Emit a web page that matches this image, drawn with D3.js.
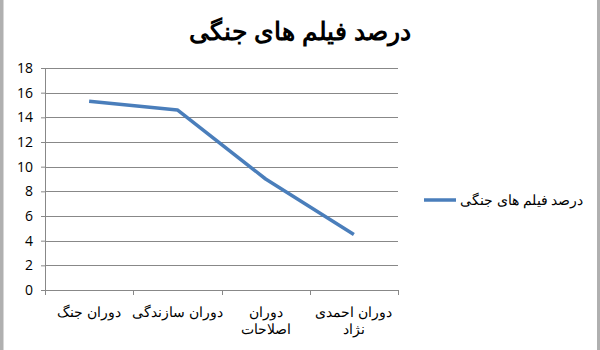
<!DOCTYPE html>
<html>
<head>
<meta charset="utf-8">
<script src="https://cdn.jsdelivr.net/npm/d3@7"></script>
<style>
  body { margin: 0; background: #fff; }
  svg { display: block; }
</style>
</head>
<body>
<svg id="mainsvg" width="600" height="350"></svg>
<script>
const TITLE = "درصد فیلم های جنگی"
const SERIES_NAME = "درصد فیلم های جنگی"
const categories = [["دوران جنگ"], ["دوران سازندگی"], ["دوران", "اصلاحات"], ["دوران احمدی", "نژاد"]]
const values = [15.3, 14.6, 9.0, 4.5]
const yTicks = [0, 2, 4, 6, 8, 10, 12, 14, 16, 18]

const WIDTH = 600, HEIGHT = 350
const MARGIN = {left: 45, right: 202, top: 68, bottom: 60}
const plotW = WIDTH - MARGIN.left - MARGIN.right
const plotH = HEIGHT - MARGIN.top - MARGIN.bottom

let svg = d3.select("#mainsvg")

// frame (gray sides)
svg.append("rect").attr("x", 0).attr("y", 0).attr("width", 3.5).attr("height", HEIGHT).attr("fill", "#b0b0b0")
svg.append("rect").attr("x", 597).attr("y", 0).attr("width", 3).attr("height", HEIGHT).attr("fill", "#b0b0b0")

let x = d3.scaleBand().domain(d3.range(categories.length)).range([0, plotW])
let y = d3.scaleLinear().domain([0, 18]).range([plotH, 0])

let g = svg.append("g").attr("transform", `translate(${MARGIN.left}, ${MARGIN.top})`)

// grid
g.selectAll(".grid")
  .data(yTicks.slice(1))
  .enter()
  .append("line")
  .attr("class", "grid")
  .attr("x1", 0).attr("x2", plotW)
  .attr("y1", d => Math.round(y(d)) + 0.5).attr("y2", d => Math.round(y(d)) + 0.5)
  .attr("stroke", "#888888").attr("stroke-width", 1)

// y axis
let yAxis = g.append("g")
  .call(d3.axisLeft(y).tickValues(yTicks).tickSize(4).tickPadding(6))
yAxis.select(".domain").attr("stroke", "#888888")
yAxis.selectAll(".tick line").attr("stroke", "#888888")
yAxis.selectAll("text")
  .attr("font-family", "'Open Sans', sans-serif")
  .attr("font-size", 14)
  .attr("fill", "#000")
  .attr("dx", -2)

// x axis
let xAxisG = g.append("g").attr("transform", `translate(0, ${plotH})`)
xAxisG.append("line")
  .attr("x1", 0).attr("x2", plotW)
  .attr("y1", 0.5).attr("y2", 0.5)
  .attr("stroke", "#888888")
xAxisG.selectAll(".xtick")
  .data(d3.range(categories.length + 1))
  .enter()
  .append("line")
  .attr("x1", d => Math.round(d * x.step()) + 0.5)
  .attr("x2", d => Math.round(d * x.step()) + 0.5)
  .attr("y1", 0).attr("y2", 5)
  .attr("stroke", "#888888")

let labels = xAxisG.selectAll(".xlabel")
  .data(categories)
  .enter()
  .append("text")
  .attr("class", "xlabel")
  .attr("text-anchor", "middle")
  .attr("direction", "rtl")
  .attr("font-family", "Arial, 'Liberation Sans', sans-serif")
  .attr("font-size", 13.5)
  .attr("fill", "#000")
labels.selectAll("tspan")
  .data((d, i) => d.map(t => ({t, i})))
  .enter()
  .append("tspan")
  .attr("x", d => x(d.i) + x.bandwidth() / 2)
  .attr("y", (d, j) => 27 + j * 17)
  .text(d => d.t)

// line
let line = d3.line()
  .x((d, i) => x(i) + x.bandwidth() / 2)
  .y(d => y(d))

g.append("path")
  .datum(values)
  .attr("d", line)
  .attr("fill", "none")
  .attr("stroke", "#4a7ebb")
  .attr("stroke-width", 3.5)
  .attr("stroke-linejoin", "round")

// title
svg.append("text")
  .attr("x", 300).attr("y", 40)
  .attr("text-anchor", "middle")
  .attr("direction", "rtl")
  .attr("font-family", "Arial, 'Liberation Sans', sans-serif")
  .attr("font-weight", "bold")
  .attr("font-size", 25)
  .text(TITLE)

// legend
let legend = svg.append("g").attr("transform", "translate(424, 200)")
legend.append("line")
  .attr("x1", 0).attr("x2", 32)
  .attr("y1", 0).attr("y2", 0)
  .attr("stroke", "#4a7ebb").attr("stroke-width", 3.5)
legend.append("text")
  .attr("x", 36).attr("y", 5)
  .attr("text-anchor", "start")
  .attr("font-family", "Arial, 'Liberation Sans', sans-serif")
  .attr("font-size", 13.5)
  .text(SERIES_NAME)
</script>
</body>
</html>
